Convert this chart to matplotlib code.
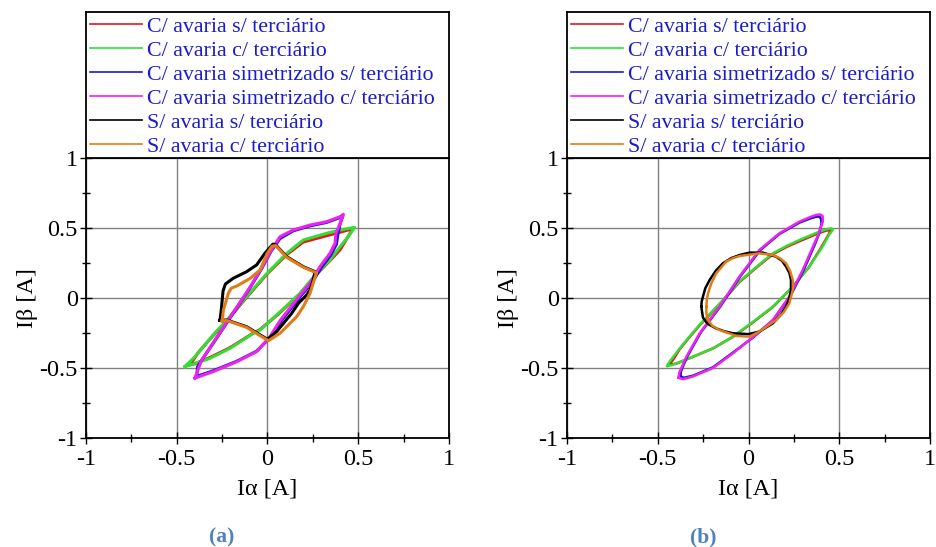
import numpy as np
import matplotlib
matplotlib.use("Agg")
import matplotlib.pyplot as plt
from matplotlib.lines import Line2D

plt.rcParams['font.family'] = ['Liberation Serif', 'DejaVu Serif']

labels = ["C/ avaria s/ terciário", "C/ avaria c/ terciário",
          "C/ avaria simetrizado s/ terciário", "C/ avaria simetrizado c/ terciário",
          "S/ avaria s/ terciário", "S/ avaria c/ terciário"]
tick_vals = [-1, -0.5, 0, 0.5, 1]
tick_text = ["-1", "-0.5", "0", "0.5", "1"]
captions = ["(a)", "(b)"]

# ---- panel (a): (Ialpha, Ibeta) points ----
red_a = [(-0.445, -0.48), (-0.415, -0.455), (-0.385, -0.395), (-0.354, -0.348), (-0.29, -0.255),
         (-0.225, -0.165), (-0.115, 0.005), (0.0, 0.175), (0.106, 0.31), (0.197, 0.40),
         (0.326, 0.445), (0.40, 0.47), (0.47, 0.495), (0.44, 0.43), (0.40, 0.345), (0.35, 0.275),
         (0.271, 0.17), (0.179, 0.03), (0.06, -0.115), (-0.041, -0.225), (-0.078, -0.25),
         (-0.207, -0.355), (-0.317, -0.425), (-0.40, -0.47), (-0.445, -0.48)]
green_a = [(-0.455, -0.49), (-0.40, -0.42), (-0.354, -0.348), (-0.29, -0.25), (-0.225, -0.16),
           (-0.115, 0.01), (0.0, 0.18), (0.106, 0.319), (0.197, 0.414), (0.326, 0.462),
           (0.40, 0.485), (0.48, 0.505), (0.445, 0.438), (0.40, 0.367), (0.344, 0.271),
           (0.271, 0.176), (0.179, 0.033), (0.06, -0.11), (-0.041, -0.229), (-0.078, -0.252),
           (-0.207, -0.36), (-0.317, -0.431), (-0.427, -0.479), (-0.455, -0.49)]
blue_a = [(-0.39, -0.56), (-0.385, -0.49), (-0.35, -0.42), (-0.3, -0.325), (-0.2, -0.13),
          (-0.1, 0.065), (-0.03, 0.215), (0.02, 0.335), (0.069, 0.425), (0.142, 0.48),
          (0.234, 0.515), (0.326, 0.54), (0.40, 0.575), (0.415, 0.585), (0.40, 0.53),
          (0.388, 0.455), (0.38, 0.385), (0.35, 0.31), (0.295, 0.215), (0.24, 0.10),
          (0.183, 0.015), (0.075, -0.165), (0.018, -0.278), (-0.06, -0.38), (-0.17, -0.452),
          (-0.3, -0.52), (-0.39, -0.56)]
magenta_a = [(-0.4, -0.572), (-0.363, -0.443), (-0.344, -0.407), (-0.3, -0.32), (-0.2, -0.125),
             (-0.1, 0.07), (-0.03, 0.22), (0.02, 0.34), (0.069, 0.438), (0.142, 0.486),
             (0.234, 0.521), (0.326, 0.545), (0.40, 0.581), (0.418, 0.598), (0.40, 0.533),
             (0.377, 0.462), (0.372, 0.39), (0.344, 0.319), (0.289, 0.224), (0.234, 0.105),
             (0.179, 0.02), (0.07, -0.16), (0.014, -0.276), (-0.06, -0.383), (-0.17, -0.455),
             (-0.3, -0.526), (-0.4, -0.572)]
black_a = [(-0.262, -0.16), (-0.255, -0.09), (-0.245, 0.05), (-0.232, 0.10), (-0.19, 0.14),
           (-0.115, 0.188), (-0.06, 0.236), (-0.014, 0.32), (0.03, 0.385), (0.045, 0.38),
           (0.106, 0.295), (0.197, 0.224), (0.262, 0.188), (0.252, 0.129), (0.234, 0.057),
           (0.216, 0.022), (0.17, -0.038), (0.133, -0.11), (0.05, -0.24), (0.0, -0.295),
           (-0.115, -0.205), (-0.225, -0.157), (-0.262, -0.16)]
orange_a = [(-0.25, -0.165), (-0.243, -0.086), (-0.216, 0.033), (-0.2, 0.07), (-0.17, 0.085),
            (-0.096, 0.14), (-0.041, 0.2), (-0.001, 0.32), (0.025, 0.37), (0.045, 0.375),
            (0.106, 0.29), (0.197, 0.22), (0.27, 0.18), (0.255, 0.12), (0.243, 0.07),
            (0.234, 0.033), (0.197, -0.062), (0.161, -0.133), (0.069, -0.252), (0.005, -0.305),
            (-0.115, -0.21), (-0.225, -0.16), (-0.25, -0.165)]

# ---- panel (b) ----
red_b = [(-0.435, -0.475), (-0.41, -0.43), (-0.379, -0.365), (-0.325, -0.28), (-0.269, -0.195),
         (-0.159, -0.045), (-0.049, 0.115), (0.06, 0.235), (0.134, 0.312), (0.21, 0.365),
         (0.28, 0.405), (0.39, 0.465), (0.43, 0.482), (0.45, 0.485), (0.448, 0.47), (0.44, 0.45),
         (0.40, 0.36), (0.33, 0.215), (0.24, 0.075), (0.134, -0.065), (0.01, -0.188),
         (-0.086, -0.278), (-0.196, -0.36), (-0.306, -0.42), (-0.40, -0.47), (-0.435, -0.475)]
green_b = [(-0.448, -0.485), (-0.44, -0.465), (-0.42, -0.43), (-0.379, -0.36), (-0.325, -0.275),
           (-0.269, -0.19), (-0.159, -0.04), (-0.049, 0.12), (0.06, 0.24), (0.134, 0.319),
           (0.21, 0.372), (0.28, 0.414), (0.39, 0.474), (0.43, 0.49), (0.454, 0.498),
           (0.465, 0.49), (0.458, 0.475), (0.445, 0.455), (0.408, 0.367), (0.335, 0.224),
           (0.244, 0.081), (0.134, -0.062), (0.01, -0.185), (-0.086, -0.276), (-0.196, -0.36),
           (-0.306, -0.419), (-0.397, -0.467), (-0.43, -0.482), (-0.448, -0.485)]
blue_b = [(-0.375, -0.56), (-0.372, -0.525), (-0.362, -0.49), (-0.336, -0.415), (-0.265, -0.25),
          (-0.155, -0.06), (-0.045, 0.155), (0.063, 0.34), (0.17, 0.457), (0.28, 0.538),
          (0.34, 0.568), (0.37, 0.58), (0.39, 0.582), (0.4, 0.565), (0.402, 0.53),
          (0.39, 0.465), (0.368, 0.39), (0.304, 0.2), (0.229, 0.01), (0.137, -0.157),
          (0.027, -0.28), (-0.086, -0.39), (-0.196, -0.495), (-0.306, -0.555),
          (-0.355, -0.57), (-0.375, -0.56)]
magenta_b = [(-0.385, -0.57), (-0.382, -0.535), (-0.37, -0.5), (-0.342, -0.419), (-0.269, -0.252),
             (-0.159, -0.06), (-0.049, 0.155), (0.06, 0.343), (0.17, 0.462), (0.28, 0.545),
             (0.34, 0.578), (0.372, 0.593), (0.395, 0.597), (0.408, 0.585), (0.41, 0.55),
             (0.40, 0.51), (0.385, 0.455), (0.363, 0.39), (0.299, 0.2), (0.225, 0.01),
             (0.134, -0.157), (0.024, -0.28), (-0.086, -0.395), (-0.196, -0.5), (-0.306, -0.56),
             (-0.36, -0.58), (-0.385, -0.57)]
black_b = [(-0.26, -0.062), (-0.258, -0.025), (-0.251, 0.01), (-0.238, 0.07), (-0.214, 0.129),
           (-0.18, 0.195), (-0.141, 0.248), (-0.095, 0.285), (-0.049, 0.307), (0.005, 0.324),
           (0.079, 0.324), (0.152, 0.295), (0.185, 0.265), (0.207, 0.224), (0.225, 0.18),
           (0.234, 0.129), (0.234, 0.057), (0.225, 0.0), (0.207, -0.062), (0.175, -0.125),
           (0.134, -0.181), (0.06, -0.24), (0.0, -0.258), (-0.086, -0.252), (-0.135, -0.237),
           (-0.178, -0.217), (-0.225, -0.185), (-0.251, -0.14), (-0.26, -0.062)]
orange_b = [(-0.232, -0.062), (-0.23, -0.015), (-0.223, 0.033), (-0.205, 0.105), (-0.178, 0.176),
            (-0.123, 0.26), (-0.085, 0.285), (-0.049, 0.3), (0.06, 0.319), (0.134, 0.307),
            (0.175, 0.282), (0.207, 0.248), (0.23, 0.19), (0.244, 0.129), (0.244, 0.057),
            (0.225, -0.038), (0.195, -0.1), (0.152, -0.157), (0.06, -0.24), (0.005, -0.276),
            (-0.068, -0.271), (-0.159, -0.229), (-0.2, -0.198), (-0.223, -0.157),
            (-0.232, -0.11), (-0.232, -0.062)]

panels = [[red_a, green_a, blue_a, magenta_a, black_a, orange_a],
          [red_b, green_b, blue_b, magenta_b, black_b, orange_b]]
colors = ['#e8141c', '#33dd33', '#1a1acc', '#ee22ee', '#000000', '#e07b1a']
line_w = [2.2, 1.8]

W, H = 937, 547
fig = plt.figure(figsize=(W / 100, H / 100), dpi=100)

lefts = [86, 567]
ax_w = 363
for k in range(2):
    x0 = lefts[k] / W
    ax = fig.add_axes([x0, 109 / H, ax_w / W, 280 / H])
    for pts, c in zip(panels[k], colors):
        p = np.array(pts)
        ax.plot(p[:, 0], p[:, 1], color=c, lw=line_w[k], solid_joinstyle='round')
    ax.set_xlim(-1, 1)
    ax.set_ylim(-1, 1)
    ax.set_xticks(tick_vals)
    ax.set_xticklabels(tick_text)
    ax.set_yticks(tick_vals)
    ax.set_yticklabels(tick_text)
    ax.set_xticks([-0.75, -0.25, 0.25, 0.75], minor=True)
    ax.set_yticks([-0.75, -0.25, 0.25, 0.75], minor=True)
    ax.tick_params(which='both', direction='inout', top=False, right=False,
                   labelsize=17.5, width=1.0)
    ax.tick_params(axis='x', which='major', pad=4)
    ax.tick_params(axis='y', which='major', pad=2)
    ax.tick_params(which='major', length=8)
    ax.tick_params(which='minor', length=6)
    ax.grid(True, which='major', color='#808080', lw=1.0)
    for s in ax.spines.values():
        s.set_linewidth(1.3)
    ax.set_xlabel('Iα [A]', fontsize=17.5, labelpad=6)
    ax.set_ylabel('Iβ [A]', fontsize=17.5, labelpad=1)

    # legend box sitting on top of the axes
    lax = fig.add_axes([x0, 389 / H, ax_w / W, 146 / H])
    lax.set_xticks([])
    lax.set_yticks([])
    for s in lax.spines.values():
        s.set_linewidth(1.3)
    handles = [Line2D([], [], color=c, lw=1.2) for c in colors]
    lax.legend(handles, labels, loc='upper left', frameon=False, fontsize=15.8,
               labelcolor='#1c1cc8', handlelength=2.35, handletextpad=0.22,
               labelspacing=0.165, borderpad=0.2, borderaxespad=0)

    fig.text((lefts[k] + 136) / W, 1 - 537 / H, captions[k], ha='center', va='center',
             fontsize=15.5, fontweight='bold', color='#4f81bd')

fig.savefig('out.png', dpi=100)
